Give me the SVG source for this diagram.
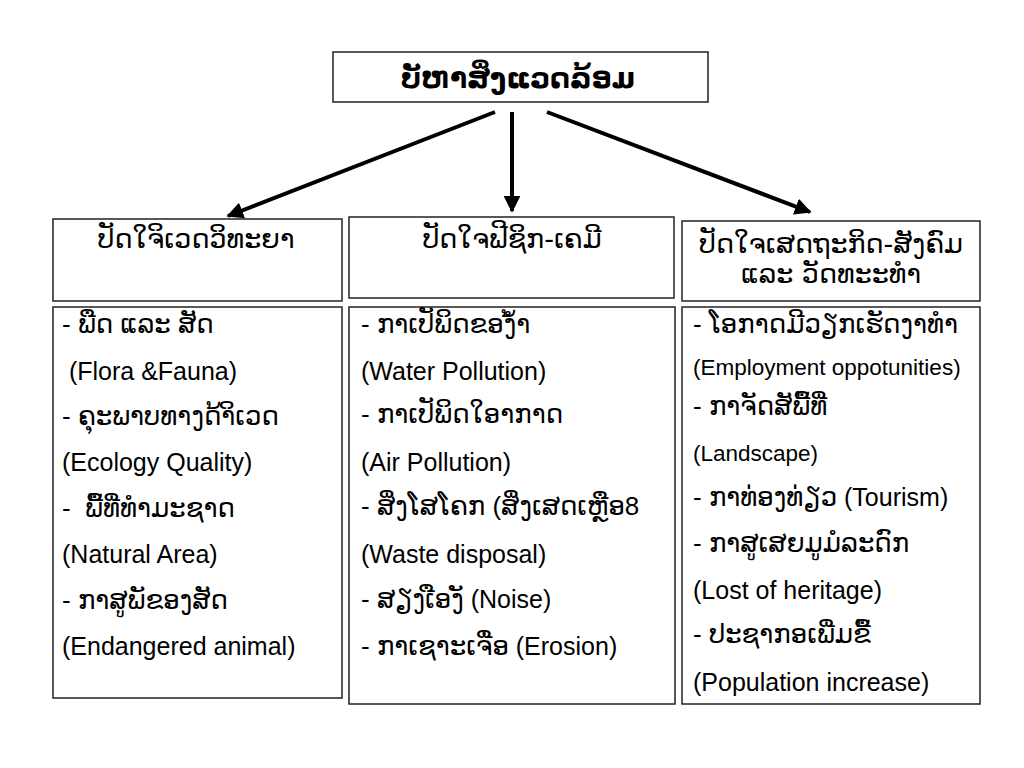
<svg xmlns="http://www.w3.org/2000/svg" width="1024" height="768" viewBox="0 0 1024 768">
<defs>
<marker id="ah" viewBox="0 0 10 10" refX="9" refY="5" markerWidth="4.2" markerHeight="4.2" orient="auto" markerUnits="strokeWidth">
<path d="M0,0 L10,5 L0,10 z" fill="#000"/>
</marker>
<style>
.box{fill:#fff;stroke:#222;stroke-width:1.5}
.t{font-family:"Liberation Sans","DejaVu Sans",sans-serif;font-size:25px;fill:#000}
.l{font-size:26px}
.h{font-family:"DejaVu Sans","Liberation Sans",sans-serif;font-size:27px;fill:#000;text-anchor:middle}
.s{font-size:22.5px}
.c{stroke:#000;stroke-width:4;fill:none}
</style>
</defs>
<rect width="1024" height="768" fill="#fff"/>
<g id="title">
<rect class="box" x="333" y="52" width="375" height="50"/>
<text class="h" x="518" y="88" style="font-size:28px;font-weight:bold">ບັຫາສິ່ງແວດລ້ອມ</text>
</g>
<g id="connectors">
<line class="c" x1="495" y1="112" x2="228" y2="216" marker-end="url(#ah)"/>
<line class="c" x1="512" y1="112" x2="512" y2="211" marker-end="url(#ah)"/>
<line class="c" x1="547" y1="112" x2="810" y2="212" marker-end="url(#ah)"/>
</g>
<g id="head-eco">
<rect class="box" x="53" y="219" width="289" height="82"/>
<text class="h" x="196" y="248">ປັດໃຈິເວດວິທະຍາ</text>
</g>
<g id="head-phys">
<rect class="box" x="349" y="217" width="325" height="81"/>
<text class="h" x="512" y="248">ປັດໃຈຟີຊິກ-ເຄມີ</text>
</g>
<g id="head-soc">
<rect class="box" x="682" y="221" width="298" height="80"/>
<text class="h" x="831" y="253">ປັດໃຈເສດຖະກິດ-ສັງຄົມ</text>
<text class="h" x="831" y="283">ແລະ ວັດທະະທຳ</text>
</g>
<g id="list-eco">
<rect class="box" x="53" y="307" width="289" height="391"/>
<text class="t l" x="62" y="333">- ພືດ ແລະ ສັດ</text>
<text class="t" x="62" y="380" xml:space="preserve"> (Flora &amp;Fauna)</text>
<text class="t l" x="62" y="425">- ຄຸະພາບທາງດ້າິເວດ</text>
<text class="t" x="62" y="471">(Ecology Quality)</text>
<text class="t l" x="62" y="517" xml:space="preserve">-  ພື້ທີ່ທຳມະຊາດ</text>
<text class="t" x="62" y="563">(Natural Area)</text>
<text class="t l" x="62" y="609">- ກາສູພັຂອງສັດ</text>
<text class="t" x="62" y="655">(Endangered animal)</text>
</g>
<g id="list-phys">
<rect class="box" x="349" y="307" width="326" height="397"/>
<text class="t l" x="361" y="333">- ກາເປັພິດຂອງ້ຳ</text>
<text class="t" x="361" y="380">(Water Pollution)</text>
<text class="t l" x="361" y="423">- ກາເປັພິດໃອາກາດ</text>
<text class="t" x="361" y="471">(Air Pollution)</text>
<text class="t l" x="361" y="515">- ສິ່ງໂສໂຄກ (ສິ່ງເສດເຫຼືອ8</text>
<text class="t" x="361" y="563">(Waste disposal)</text>
<text class="t" x="361" y="608"><tspan class="l">- ສຽງເືອງັ</tspan> (Noise)</text>
<text class="t" x="361" y="655"><tspan class="l">- ກາເຊາະເຈື່ອ</tspan> (Erosion)</text>
</g>
<g id="list-soc">
<rect class="box" x="682" y="307" width="298" height="397"/>
<text class="t l" x="693" y="333">- ໂອກາດມີວຽກເຮັດງາທຳ</text>
<text class="t s" x="693" y="375">(Employment oppotunities)</text>
<text class="t l" x="693" y="415">- ກາຈັດສັພື້ທີ່</text>
<text class="t s" x="693" y="461">(Landscape)</text>
<text class="t" x="693" y="506"><tspan class="l">- ກາທ່ອງທ່ຽວ</tspan> (Tourism)</text>
<text class="t l" x="693" y="552">- ກາສູເສຍມູມໍລະດົກ</text>
<text class="t" x="693" y="599">(Lost of heritage)</text>
<text class="t l" x="693" y="643">- ປະຊາກອເພີ່ມຂື້</text>
<text class="t" x="693" y="691">(Population increase)</text>
</g>
</svg>
